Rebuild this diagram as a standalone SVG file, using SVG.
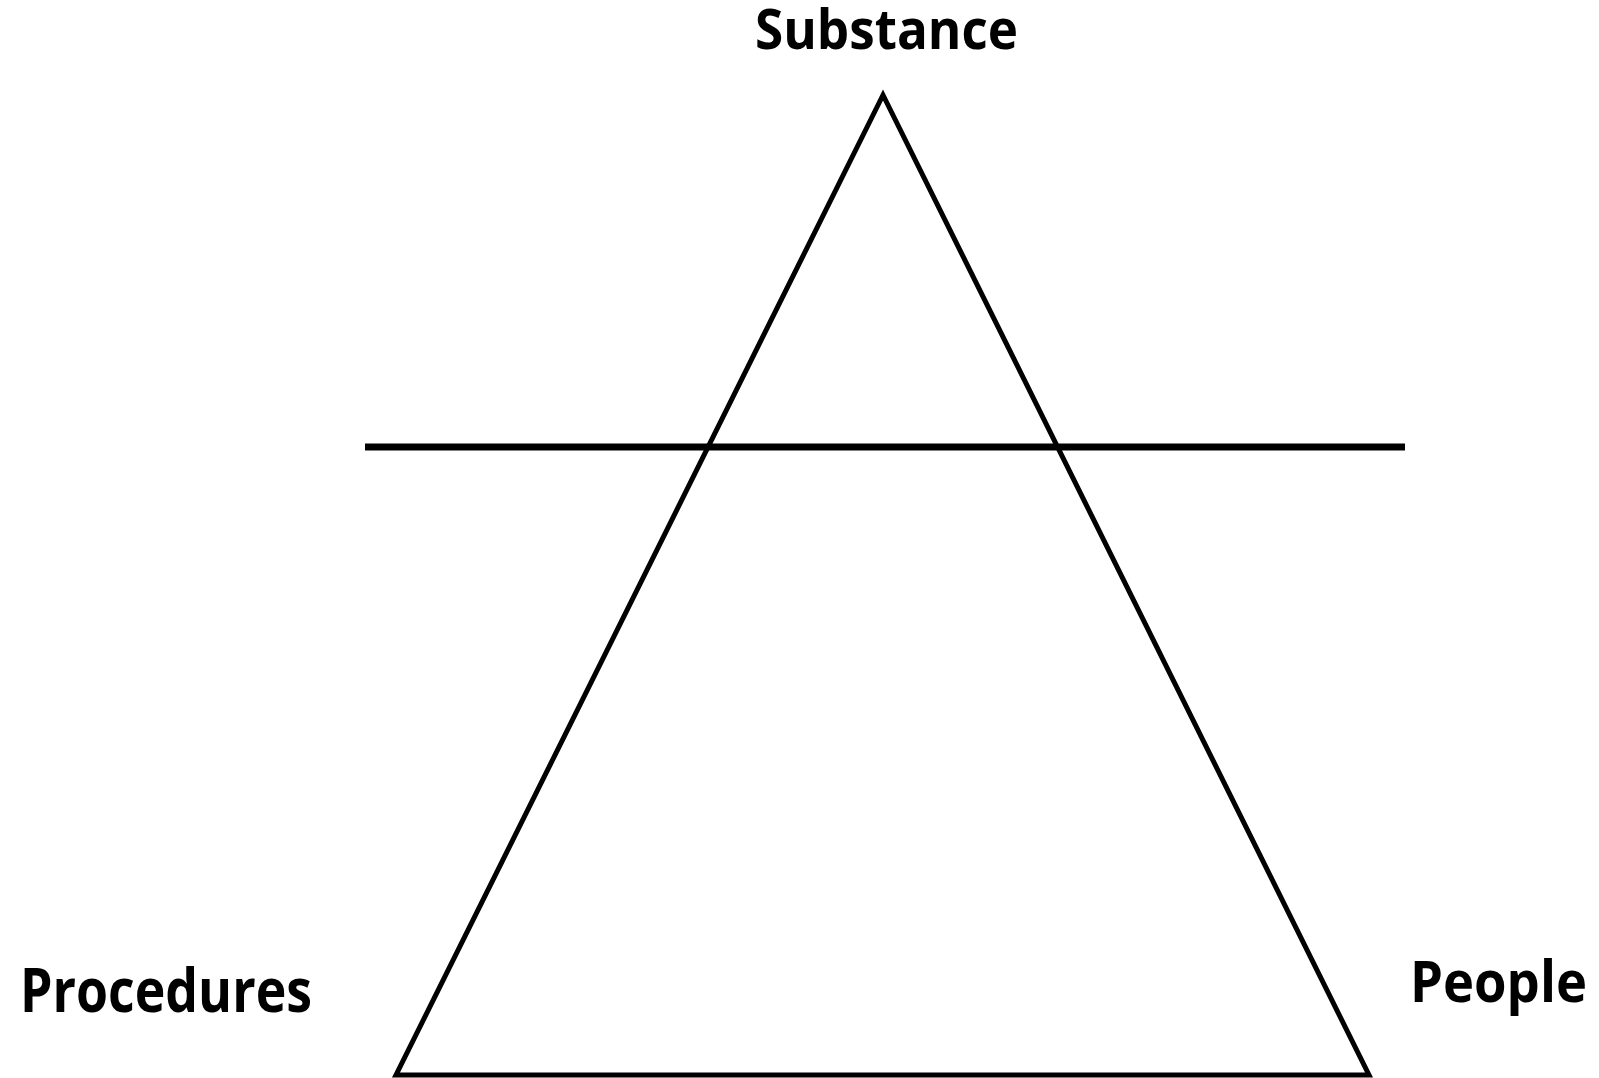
<svg xmlns="http://www.w3.org/2000/svg" width="1599" height="1078" viewBox="0 0 1599 1078">
<style>
.lbl{font-family:"Open Sans","Noto Sans","Liberation Sans",sans-serif;font-weight:bold;fill:#000}
.ln{stroke:#000;fill:none}
</style>
<rect width="1599" height="1078" fill="#fff"/>
<g id="connectors">
<polygon class="ln" points="883,95 396,1075 1369,1075" stroke-width="5" stroke-linejoin="miter"/>
<line class="ln" x1="365" y1="447" x2="1405" y2="447" stroke-width="7"/>
</g>
<g id="substance"><text class="lbl" x="755" y="49" font-size="55" textLength="263" lengthAdjust="spacingAndGlyphs">Substance</text></g>
<g id="procedures"><text class="lbl" x="20" y="1012" font-size="60" textLength="292" lengthAdjust="spacingAndGlyphs">Procedures</text></g>
<g id="people"><text class="lbl" x="1410" y="1002" font-size="57" textLength="177" lengthAdjust="spacingAndGlyphs">People</text></g>
</svg>
